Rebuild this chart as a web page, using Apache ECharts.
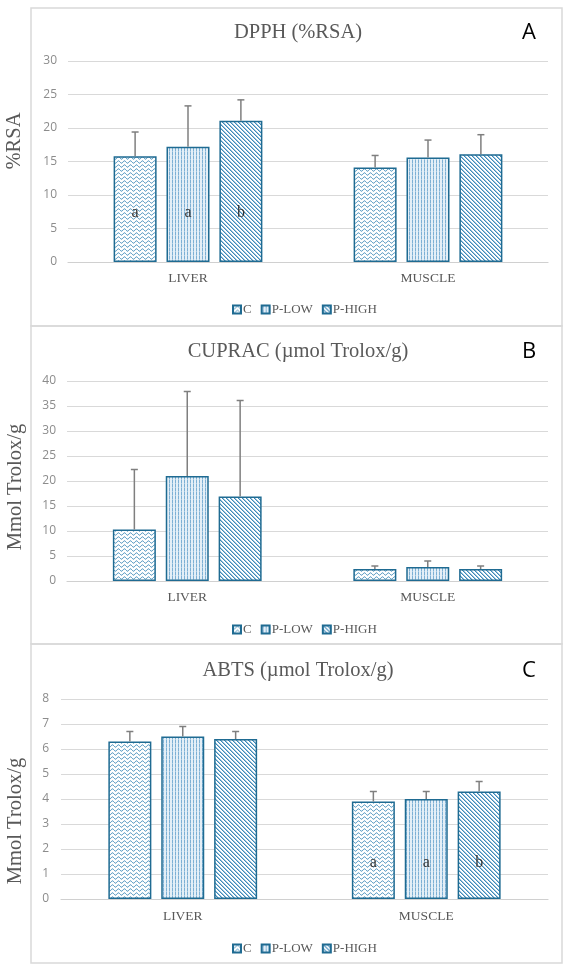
<!DOCTYPE html>
<html>
<head>
<meta charset="utf-8">
<script src="https://cdn.jsdelivr.net/npm/echarts@6/dist/echarts.min.js"></script>
<style>
  html, body { margin: 0; padding: 0; background: #fff; }
  #chart { width: 567px; height: 969px; }
</style>
</head>
<body>
<div id="chart"></div>
<script>
// data
const categories = ['LIVER', 'MUSCLE'];
const groups = ['C', 'P-LOW', 'P-HIGH'];

const dpphC = [15.8, 14.1];
const dpphLow = [17.2, 15.6];
const dpphHigh = [21.1, 16.1];
const dpphErrC = [3.6, 1.8];
const dpphErrLow = [6.1, 2.6];
const dpphErrHigh = [3.1, 2.9];
const dpphLetters = [['a', 'a', 'b'], ['', '', '']];

const cupracC = [10.3, 2.4];
const cupracLow = [21.0, 2.8];
const cupracHigh = [16.9, 2.4];
const cupracErrC = [12.0, 0.6];
const cupracErrLow = [16.9, 1.2];
const cupracErrHigh = [19.2, 0.6];
const cupracLetters = [['', '', ''], ['', '', '']];

const abtsC = [6.3, 3.9];
const abtsLow = [6.5, 4.0];
const abtsHigh = [6.4, 4.3];
const abtsErrC = [0.4, 0.4];
const abtsErrLow = [0.4, 0.3];
const abtsErrHigh = [0.3, 0.4];
const abtsLetters = [['', '', ''], ['a', 'a', 'b']];

const SERIF = '"Liberation Serif", "DejaVu Serif", serif';
const SANS = '"Open Sans", "Liberation Sans", sans-serif';
const EDGE = '#1f6b92';
const INK = '#3f8ab8';
const BAR_W = 43;
const BAR_GAP = 0.23;

// pattern tiles
function wavePattern() {
    const c = document.createElement('canvas');
    c.width = 6; c.height = 4;
    const ctx = c.getContext('2d');
    ctx.fillStyle = '#fff';
    ctx.fillRect(0, 0, 6, 4);
    ctx.strokeStyle = INK;
    ctx.lineWidth = 1;
    ctx.beginPath();
    for (let x = 0; x <= 6; x += 0.5) {
        const y = 2 + 1.2 * Math.sin(x / 6 * Math.PI * 2);
        x === 0 ? ctx.moveTo(x, y) : ctx.lineTo(x, y);
    }
    ctx.stroke();
    return c;
}
function stripePattern() {
    const c = document.createElement('canvas');
    c.width = 3; c.height = 4;
    const ctx = c.getContext('2d');
    ctx.fillStyle = '#e4eff7';
    ctx.fillRect(0, 0, 3, 4);
    ctx.fillStyle = '#7db0d4';
    ctx.fillRect(1, 0, 1, 3);
    ctx.fillStyle = '#a9cbe3';
    ctx.fillRect(1, 3, 1, 1);
    return c;
}
function diagPattern() {
    const c = document.createElement('canvas');
    c.width = 4; c.height = 4;
    const ctx = c.getContext('2d');
    ctx.fillStyle = '#fff';
    ctx.fillRect(0, 0, 4, 4);
    ctx.fillStyle = INK;
    for (let i = 0; i < 4; i++) ctx.fillRect(i, i, 1, 1);
    ctx.fillStyle = '#9cc3de';
    for (let i = 0; i < 4; i++) ctx.fillRect((i + 1) % 4, i, 1, 1);
    return c;
}
const fills = [
    { image: wavePattern(), repeat: 'repeat' },
    { image: stripePattern(), repeat: 'repeat' },
    { image: diagPattern(), repeat: 'repeat' }
];

const panels = [
    { title: 'DPPH (%RSA)', tag: 'A', yName: '%RSA', vals: [dpphC, dpphLow, dpphHigh], errs: [dpphErrC, dpphErrLow, dpphErrHigh], letters: dpphLetters, letterAt: 7.3, max: 30, interval: 5,
      box: [31, 8, 531, 318], grid: { left: 68, top: 61, width: 480, height: 201 }, titleY: 33, nameX: 15, nameY: 141, legendTop: 298, labelMargin: 9, yMargin: 11 },
    { title: 'CUPRAC (\u00b5mol Trolox/g)', tag: 'B', yName: 'Mmol Trolox/g', vals: [cupracC, cupracLow, cupracHigh], errs: [cupracErrC, cupracErrLow, cupracErrHigh], letters: cupracLetters, letterAt: 0, max: 40, interval: 5,
      box: [31, 326, 531, 318], grid: { left: 67, top: 381, width: 481, height: 200 }, titleY: 352, nameX: 16, nameY: 487, legendTop: 618, labelMargin: 9, yMargin: 11 },
    { title: 'ABTS (\u00b5mol Trolox/g)', tag: 'C', yName: 'Mmol Trolox/g', vals: [abtsC, abtsLow, abtsHigh], errs: [abtsErrC, abtsErrLow, abtsErrHigh], letters: abtsLetters, letterAt: 1.46, max: 8, interval: 1,
      box: [31, 644, 531, 319], grid: { left: 61, top: 699, width: 487, height: 200 }, titleY: 671, nameX: 16, nameY: 821, legendTop: 937, labelMargin: 10, yMargin: 12 }
];

const option = {
    animation: false,
    backgroundColor: '#fff',
    grid: [], xAxis: [], yAxis: [], legend: [], series: [], graphic: []
};

panels.forEach((p, pi) => {
    option.graphic.push(
        { type: 'rect', shape: { x: p.box[0], y: p.box[1], width: p.box[2], height: p.box[3] }, style: { fill: null, stroke: '#d9d9d9', lineWidth: 1.5 }, z: -1 },
        { type: 'text', x: 298, y: p.titleY, style: { text: p.title, font: '20.5px ' + SERIF, fill: '#595959', textAlign: 'center', textVerticalAlign: 'middle' } },
        { type: 'text', x: 529, y: p.titleY, style: { text: p.tag, font: '22px ' + SANS, fill: '#000', textAlign: 'center', textVerticalAlign: 'middle' } },
        { type: 'text', x: p.nameX, y: p.nameY, rotation: Math.PI / 2, style: { text: p.yName, font: '20.5px ' + SERIF, fill: '#595959', textAlign: 'center', textVerticalAlign: 'middle' } }
    );
    option.grid.push(p.grid);
    option.xAxis.push({
        type: 'category', gridIndex: pi, data: categories,
        axisLine: { lineStyle: { color: '#d0d0d0', width: 1.2 } },
        axisTick: { show: false },
        axisLabel: { fontFamily: SERIF, fontSize: 13.5, color: '#595959', margin: p.labelMargin }
    });
    option.yAxis.push({
        type: 'value', gridIndex: pi, min: 0, max: p.max, interval: p.interval,
        axisLine: { show: false }, axisTick: { show: false },
        splitLine: { lineStyle: { color: '#d9d9d9', width: 1.2 } },
        axisLabel: { fontFamily: SANS, fontSize: 12, color: '#8c8c8c', margin: p.yMargin }
    });
    option.legend.push({
        data: groups, left: 227, top: p.legendTop, itemWidth: 8, itemHeight: 8, itemGap: 9,
        icon: 'rect',
        textStyle: { fontFamily: SERIF, fontSize: 13, color: '#595959', padding: [0, 0, 0, -3] }
    });
    groups.forEach((g, gi) => {
        option.series.push({
            name: g, type: 'bar', xAxisIndex: pi, yAxisIndex: pi,
            barWidth: BAR_W, barGap: (BAR_GAP * 100) + '%',
            itemStyle: { color: fills[gi], borderColor: EDGE, borderWidth: 1.5 },
            data: p.vals[gi]
        });
    });
    // error bars and significance letters
    const items = [];
    categories.forEach((c, ci) => {
        groups.forEach((g, gi) => {
            items.push([ci, gi, p.vals[gi][ci], p.errs[gi][ci], p.letters[ci][gi]]);
        });
    });
    option.series.push({
        type: 'custom', xAxisIndex: pi, yAxisIndex: pi, z: 5,
        encode: { x: 0, y: 2 },
        data: items,
        renderItem: (params, api) => {
            const ci = api.value(0), gi = api.value(1), v = api.value(2), e = api.value(3);
            const letter = items[params.dataIndex][4];
            const x = api.coord([ci, 0])[0] + (gi - 1) * BAR_W * (1 + BAR_GAP);
            const yBase = api.coord([ci, v])[1];
            const yTop = api.coord([ci, v + e])[1];
            const stroke = { stroke: '#7f7f7f', lineWidth: 1.5 };
            const children = [
                { type: 'line', shape: { x1: x, y1: yBase, x2: x, y2: yTop }, style: stroke },
                { type: 'line', shape: { x1: x - 3.5, y1: yTop, x2: x + 3.5, y2: yTop }, style: stroke }
            ];
            if (letter) {
                const ly = api.coord([ci, p.letterAt])[1];
                children.push({ type: 'text', x: x, y: ly, style: { text: letter, font: '16px ' + SERIF, fill: '#333', textAlign: 'center', textVerticalAlign: 'middle' } });
            }
            return { type: 'group', children };
        }
    });
});

const myChart = echarts.init(document.getElementById('chart'));
myChart.setOption(option);
</script>
</body>
</html>
